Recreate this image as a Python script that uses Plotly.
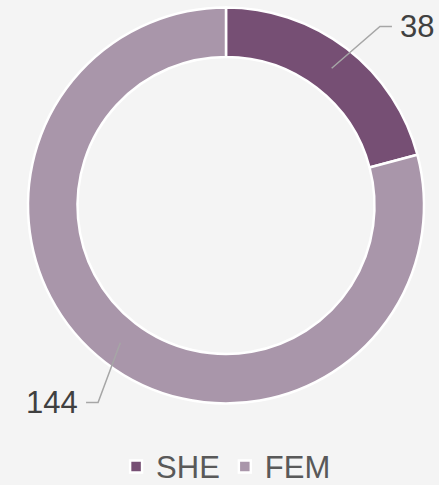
import math
import plotly.graph_objects as go

labels = ["SHE", "FEM"]
values = [38, 144]
colors = ["#764f74", "#a996aa"]

W, H = 439, 485
cx, cy, r_out = 226, 205.5, 198
hole = 0.75

fig = go.Figure(go.Pie(
    labels=labels, values=values, hole=hole, sort=False, direction="clockwise",
    rotation=0, textinfo="none", hoverinfo="label+value",
    marker=dict(colors=colors, line=dict(color="white", width=2.5)),
    domain=dict(x=[(cx - r_out) / W, (cx + r_out) / W],
                y=[1 - (cy + r_out) / H, 1 - (cy - r_out) / H]),
))

def px(x, y):
    return x / W, 1 - y / H

total = sum(values)
cum = 0
shapes, annots = [], []
r_mid = r_out * (1 + hole) / 2
r_elb = r_out + 38
for lab, v in zip(labels, values):
    a = math.radians((cum + v / 2) / total * 360)
    cum += v
    right = math.sin(a) > 0
    sx, sy = cx + r_mid * math.sin(a), cy - r_mid * math.cos(a)
    ex = cx + r_elb * math.sin(a) + (10 if right else 16)
    ey = cy - r_elb * math.cos(a) + (8 if right else 10)
    hx = ex + (12 if right else -12)
    p = [px(sx, sy), px(ex, ey), px(hx, ey)]
    shapes.append(dict(type="path", xref="paper", yref="paper",
                       path="M {} {} L {} {} L {} {}".format(p[0][0], p[0][1], p[1][0], p[1][1], p[2][0], p[2][1]),
                       line=dict(color="#a6a6a6", width=1.5)))
    tx, ty = px(hx + (6 if right else -6), ey)
    annots.append(dict(x=tx, y=ty, xref="paper", yref="paper", text=str(v), showarrow=False,
                       xanchor="left" if right else "right", yanchor="middle",
                       font=dict(size=31, color="#404040")))

fig.update_layout(
    width=W, height=H, margin=dict(l=0, r=0, t=0, b=0, autoexpand=False),
    paper_bgcolor="#f4f4f4", plot_bgcolor="#f4f4f4",
    font=dict(family="Liberation Sans, Arial, sans-serif"),
    shapes=shapes, annotations=annots,
    legend=dict(orientation="h", x=0.515, xanchor="center", y=-0.018, yanchor="bottom",
                font=dict(size=31, color="#595959"), itemwidth=30),
)
fig.write_html("out.html", config={"displayModeBar": False},
               post_script="document.body.style.margin='0';document.body.style.overflow='hidden';")
